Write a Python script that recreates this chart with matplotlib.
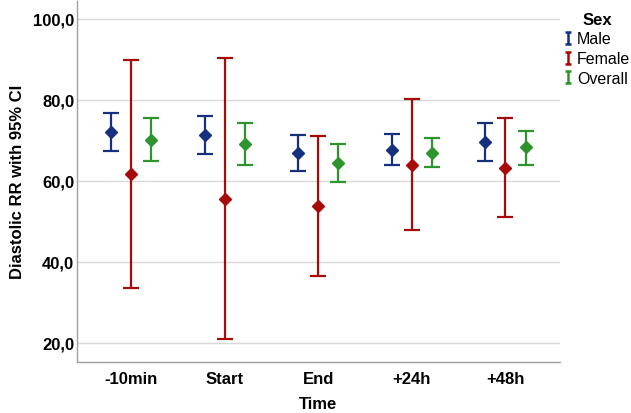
import numpy as np
import matplotlib
matplotlib.use("Agg")
import matplotlib.pyplot as plt
from matplotlib.path import Path
from matplotlib.lines import Line2D
from matplotlib.ticker import FuncFormatter

plt.rcParams['font.family'] = ['Liberation Sans', 'DejaVu Sans']

times = ['-10min', 'Start', 'End', '+24h', '+48h']
groups = ['Male', 'Female', 'Overall']
colors = ['#14307f', '#a80a0a', '#2e952e']

# means and 95% CI bounds
male_mean = [72.0, 71.4, 66.9, 67.7, 69.5]
male_low = [67.4, 66.7, 62.5, 63.8, 64.8]
male_high = [76.8, 76.0, 71.4, 71.6, 74.3]

female_mean = [61.7, 55.6, 53.7, 64.0, 63.1]
female_low = [33.5, 20.8, 36.4, 47.8, 51.0]
female_high = [89.9, 90.4, 71.1, 80.1, 75.5]

overall_mean = [70.1, 69.0, 64.4, 66.9, 68.3]
overall_low = [64.8, 64.0, 59.8, 63.3, 64.0]
overall_high = [75.6, 74.2, 69.0, 70.6, 72.4]

series = [
    (male_mean, male_low, male_high),
    (female_mean, female_low, female_high),
    (overall_mean, overall_low, overall_high),
]

fig = plt.figure(figsize=(6.31, 4.14), dpi=100)
ax = fig.add_axes([0.122, 0.124, 0.765, 0.871])

x = np.arange(len(times))
offsets = [-0.215, 0.0, 0.215]
for (mean, low, high), off, col in zip(series, offsets, colors):
    mean = np.array(mean)
    err = [mean - np.array(low), np.array(high) - mean]
    ax.errorbar(x + off, mean, yerr=err, fmt='D', color=col, ecolor=col,
                markersize=6, elinewidth=1.6, capsize=6, capthick=1.6, zorder=3)

ax.set_xlim(-0.58, 4.58)
ax.set_ylim(15.3, 104.4)
ax.set_yticks([20, 40, 60, 80, 100])
ax.yaxis.set_major_formatter(FuncFormatter(lambda v, p: f'{v:.1f}'.replace('.', ',')))
ax.set_xticks(x)
ax.set_xticklabels(times)
for lbl in ax.get_xticklabels() + ax.get_yticklabels():
    lbl.set_fontweight('bold')
    lbl.set_fontsize(12)
ax.tick_params(axis='y', length=0, pad=2)
ax.tick_params(axis='x', length=0, pad=7)

ax.grid(axis='y', color='#d9d9d9', linewidth=1)
ax.set_axisbelow(True)
for s in ['top', 'right']:
    ax.spines[s].set_visible(False)
for s in ['left', 'bottom']:
    ax.spines[s].set_color('#a0a0a0')
    ax.spines[s].set_linewidth(1)

ax.set_xlabel('Time', fontsize=12, fontweight='bold', labelpad=7)
ax.set_ylabel('Diastolic RR with 95% CI', fontsize=12, fontweight='bold', labelpad=6)

# "I" shaped legend markers like the error bars
ibar = Path([(-0.5, 1), (0.5, 1), (0, 1), (0, -1), (-0.5, -1), (0.5, -1)],
            [Path.MOVETO, Path.LINETO, Path.MOVETO, Path.LINETO, Path.MOVETO, Path.LINETO])
handles = [Line2D([], [], linestyle='none', marker=ibar, markersize=8,
                  markeredgewidth=1.8, markeredgecolor=c, markerfacecolor='none')
           for c in colors]
leg = fig.legend(handles, groups, loc='upper left', bbox_to_anchor=(0.884, 0.985),
                 frameon=False, fontsize=11.5, title='Sex', handlelength=0.5,
                 handletextpad=0.3, labelspacing=0.3, borderaxespad=0)
leg.get_title().set_fontweight('bold')
leg.get_title().set_fontsize(12)

fig.savefig('out.png', dpi=100)
